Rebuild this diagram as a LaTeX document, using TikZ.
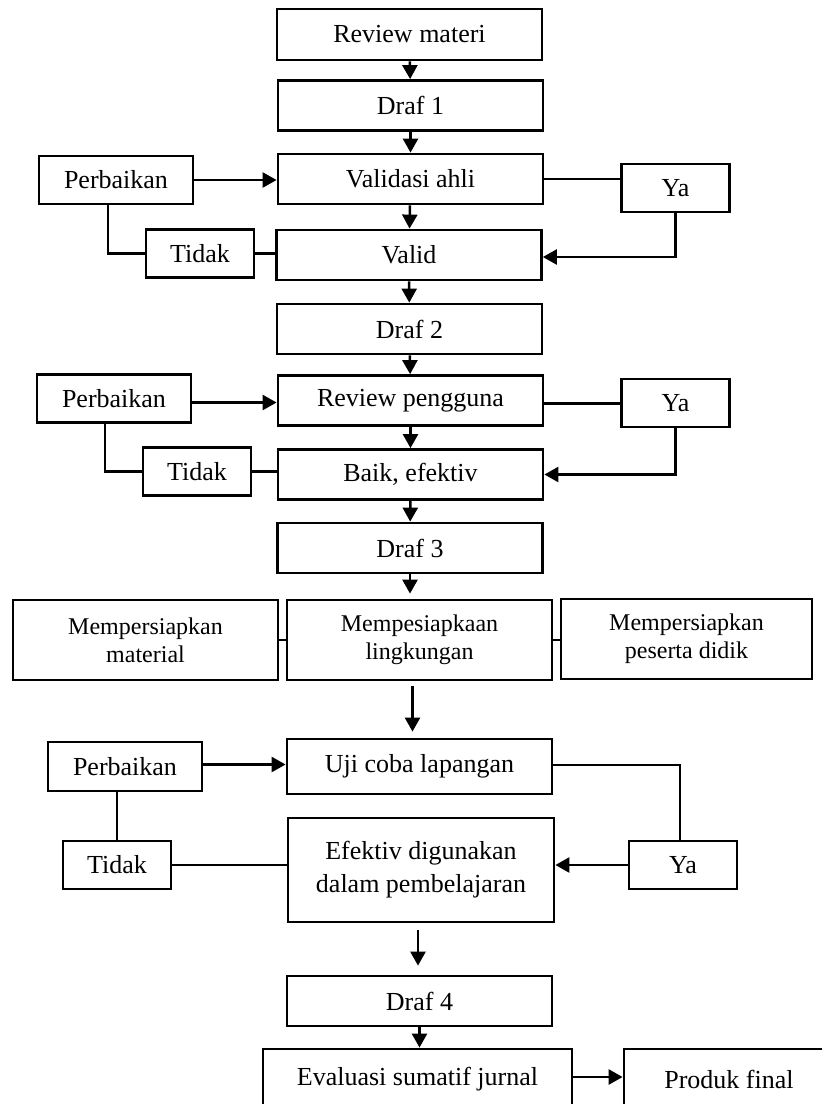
\documentclass[tikz,border=0pt]{standalone}
\usepackage{fontspec}
\setmainfont{Liberation Serif}
\usetikzlibrary{arrows.meta}
\newcommand{\mainw}{265pt}
\newcommand{\sidew}{108pt}
\newcommand{\perbw}{154pt}

\tikzset{
  stepbox/.style={draw, line width=2.8pt, inner sep=0pt, minimum height=50pt,
    align=center, font=\fontsize{26}{33}\selectfont},
  prepbox/.style={stepbox, minimum height=80pt, font=\fontsize{24}{28}\selectfont},
}

\begin{document}
\begin{tikzpicture}[x=1pt, y=-1pt, >={Triangle[length=14pt,width=15pt]}, line width=2.5pt]
        \useasboundingbox (0,0) rectangle (822,1104);
        \clip (0,0) rectangle (822,1104);
        % main column
        \node[stepbox, minimum width=\mainw, minimum height=51pt] (rm) at (409.5,34.5) {Review materi};
        \node[stepbox, minimum width=\mainw] (d1) at (410.5,105.5) {Draf 1};
        \node[stepbox, minimum width=\mainw] (va) at (410.5,179) {Validasi ahli};
        \node[stepbox, minimum width=\mainw] (vd) at (409,255) {Valid};
        \node[stepbox, minimum width=\mainw] (d2) at (409.5,329) {Draf 2};
        \node[stepbox, minimum width=\mainw] (rp) at (410.5,400.5) {Review pengguna};
        \node[stepbox, minimum width=\mainw] (be) at (410.5,474.5) {Baik, efektiv};
        \node[stepbox, minimum width=\mainw] (d3) at (410,548) {Draf 3};
        % side boxes
        \node[stepbox, minimum width=\perbw, minimum height=48pt] (pb1) at (116,180) {Perbaikan};
        \node[stepbox, minimum width=\sidew, minimum height=48pt] (ya1) at (675.5,188) {Ya};
        \node[stepbox, minimum width=\sidew, minimum height=48pt] (td1) at (200,253.5) {Tidak};
        \node[stepbox, minimum width=\perbw, minimum height=48pt] (pb2) at (114,398.5) {Perbaikan};
        \node[stepbox, minimum width=\sidew, minimum height=48pt] (ya2) at (675.5,403) {Ya};
        \node[stepbox, minimum width=\sidew, minimum height=48pt] (td2) at (197,471.5) {Tidak};
        % preparation row
        \node[prepbox, minimum width=\mainw] (m1) at (145.5,640) {Mempersiapkan\\material};
        \node[prepbox, minimum width=\mainw] (m2) at (419.5,640) {Mempesiapkaan\\lingkungan};
        \node[prepbox, minimum width=251pt] (m3) at (686.5,639) {Mempersiapkan\\peserta didik};
        % field test
        \node[stepbox, minimum width=\mainw, minimum height=55pt] (uj) at (419.5,766.5) {Uji coba lapangan};
        \node[stepbox, minimum width=266pt, minimum height=104pt] (ef) at (421,870) {Efektiv digunakan\\dalam pembelajaran};
        \node[stepbox, minimum width=\perbw, minimum height=49pt] (pb3) at (125,766.5) {Perbaikan};
        \node[stepbox, minimum width=\sidew, minimum height=48pt] (td3) at (117,865) {Tidak};
        \node[stepbox, minimum width=\sidew, minimum height=48pt] (ya3) at (683,865) {Ya};
        \node[stepbox, minimum width=\mainw] (d4) at (419.5,1001) {Draf 4};
        \node[stepbox, minimum width=309pt, minimum height=60pt] (ev) at (417.5,1079) {Evaluasi sumatif jurnal};
        \node[stepbox, minimum width=210pt, minimum height=60pt] (pf) at (729,1079) {Produk final};
        % arrows down
        \draw[->] (rm) -- (d1);
        \draw[->] (d1) -- (va);
        \draw[->] (va) -- (vd);
        \draw[->] (vd) -- (d2);
        \draw[->] (d2) -- (rp);
        \draw[->] (rp) -- (be);
        \draw[->] (be) -- (d3);
        \draw[->, shorten >=5pt] (d3.south) -- (d3.south |- m2.north);
        \draw[->, shorten <=5pt, shorten >=6pt] ([xshift=-7pt]m2.south) -- ([xshift=-7pt]m2.south |- uj.north);
        \draw[->, shorten <=7pt, shorten >=9pt] ([xshift=-3pt]ef.south) -- ([xshift=-3pt]ef.south |- d4.north);
        \draw[->] (d4.south) -- (d4.south |- ev.north);
        % loops
        \draw[->] (pb1.east) -- (pb1.east -| va.west);
        \draw (va.east) -- (va.east -| ya1.west);
        \draw[->] (ya1.south) |- ([yshift=-2pt]vd.east);
        \draw ([xshift=-8pt]pb1.south) |- (td1.west);
        \draw (td1.east) -- (td1.east -| vd.west);
        \draw[->] ([yshift=-4pt]pb2.east) -- ([yshift=-4pt]pb2.east -| rp.west);
        \draw ([yshift=-3pt]rp.east) -- ([yshift=-3pt]rp.east -| ya2.west);
        \draw[->] (ya2.south) |- (be.east);
        \draw ([xshift=-9pt]pb2.south) |- (td2.west);
        \draw (td2.east) -- (td2.east -| be.west);
        \draw (m1.east) -- (m2.west);
        \draw (m2.east) -- (m2.east -| m3.west);
        \draw[->] ([yshift=2pt]pb3.east) -- ([yshift=2pt]pb3.east -| uj.west);
        \draw[line width=2pt] ([yshift=1.5pt]uj.east) -| ([xshift=-3pt]ya3.north);
        \draw (td3.north |- pb3.south) -- (td3.north);
        \draw (td3.east) -- (td3.east -| ef.west);
        \draw[->] (ya3.west) -- (ya3.west -| ef.east);
        \draw[->] ([yshift=2pt]ev.east) -- ([yshift=2pt]ev.east -| pf.west);
\end{tikzpicture}
\end{document}
